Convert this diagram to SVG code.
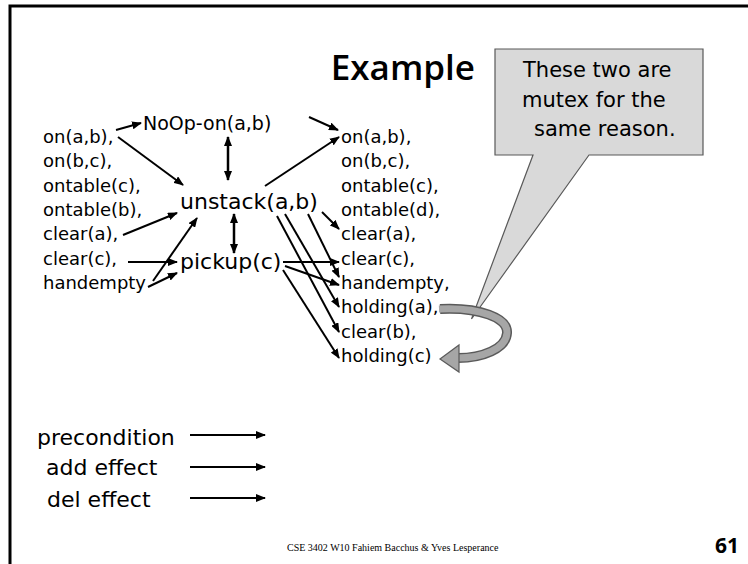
<svg xmlns="http://www.w3.org/2000/svg" width="748" height="564" viewBox="0 0 748 564">
  <style>
    .t { font-family: "DejaVu Sans", "Noto Sans", sans-serif; fill: #000; }
    .prop { font-size: 18px; }
    .act { font-size: 22px; }
    .noop { font-size: 19px; }
    .leg { font-size: 22px; }
    .call { font-size: 21px; }
    .ln { stroke: #000; stroke-width: 2; fill: none; marker-end: url(#ah); }
    .dbl { stroke: #000; stroke-width: 2.5; fill: none; marker-end: url(#ah); marker-start: url(#ah); }
  </style>
  <defs>
    <marker id="ah" markerUnits="userSpaceOnUse" markerWidth="10" markerHeight="8" refX="9" refY="4" orient="auto-start-reverse">
      <path d="M0,0 L10,4 L0,8 Z" fill="#000"/>
    </marker>
  </defs>

  <rect width="748" height="564" fill="#fff"/>
  <!-- slide frame -->
  <path d="M10,564 V6 H748" fill="none" stroke="#000" stroke-width="3"/>

  <text x="475" y="80" text-anchor="end" class="t" style="font-family:'Open Sans','DejaVu Sans',sans-serif;font-weight:600;font-size:35px">Example</text>

  <!-- callout -->
  <g id="callout">
    <path d="M495,49 H703 V155 H589 L471.5,319 L533,155 H495 Z" fill="#d9d9d9" stroke="#595959" stroke-width="1.2"/>
    <text class="t call" x="523" y="77">These two are</text>
    <text class="t call" x="522" y="107">mutex for the</text>
    <text class="t call" x="534" y="136">same reason.</text>
  </g>

  <!-- curved mutex arrow -->
  <g id="mutex-arrow">
    <path d="M440,309 C480,307 508,318 507,333 C506,349 482,358 458,358" fill="none" stroke="#5a5a5a" stroke-width="10"/>
    <path d="M439,309 C480,307 508,318 507,333 C506,349 482,358 457,358" fill="none" stroke="#a6a6a6" stroke-width="7"/>
    <path d="M440,359 L459,345 L459,372 Z" fill="#a6a6a6" stroke="#5a5a5a" stroke-width="1.2"/>
  </g>

  <g id="state0" class="t prop">
    <text x="43" y="143">on(a,b),</text>
    <text x="43" y="167">on(b,c),</text>
    <text x="43" y="192">ontable(c),</text>
    <text x="43" y="216">ontable(b),</text>
    <text x="43" y="240">clear(a),</text>
    <text x="43" y="265">clear(c),</text>
    <text x="43" y="289">handempty</text>
  </g>

  <g id="noop-on-ab"><text class="t noop" x="143" y="130">NoOp-on(a,b)</text></g>
  <g id="unstack-ab"><text class="t act" x="180" y="209">unstack(a,b)</text></g>
  <g id="pickup-c"><text class="t act" x="180" y="269">pickup(c)</text></g>

  <g id="state1" class="t prop">
    <text x="341" y="143">on(a,b),</text>
    <text x="341" y="167">on(b,c),</text>
    <text x="341" y="192">ontable(c),</text>
    <text x="341" y="216">ontable(d),</text>
    <text x="341" y="240">clear(a),</text>
    <text x="341" y="265">clear(c),</text>
    <text x="341" y="289">handempty,</text>
    <text x="341" y="313">holding(a),</text>
    <text x="341" y="338">clear(b),</text>
    <text x="341" y="362">holding(c)</text>
  </g>

  <g id="connectors">
    <!-- preconditions -->
    <line class="ln" x1="116" y1="130" x2="141" y2="123"/>
    <line class="ln" x1="118" y1="137" x2="183" y2="185"/>
    <line class="ln" x1="123" y1="235" x2="177" y2="213"/>
    <line class="ln" x1="128" y1="262" x2="177" y2="262"/>
    <line class="ln" x1="153" y1="281" x2="197" y2="218"/>
    <line class="ln" x1="148" y1="287" x2="177" y2="273"/>
    <!-- mutex links between actions -->
    <line class="dbl" x1="228" y1="137" x2="228" y2="180"/>
    <line class="dbl" x1="234" y1="214" x2="234" y2="253"/>
    <!-- effects -->
    <line class="ln" x1="309" y1="117" x2="338" y2="130"/>
    <line class="ln" x1="265" y1="186" x2="339" y2="137"/>
    <line class="ln" x1="322" y1="212" x2="339" y2="229"/>
    <line class="ln" x1="308" y1="214" x2="339" y2="277"/>
    <line class="ln" x1="285" y1="214" x2="339" y2="307"/>
    <line class="ln" x1="277" y1="216" x2="339" y2="332"/>
    <line class="ln" x1="283" y1="262" x2="339" y2="262"/>
    <line class="ln" x1="285" y1="266" x2="339" y2="285"/>
    <line class="ln" x1="283" y1="270" x2="339" y2="358"/>
  </g>

  <g id="legend">
    <text class="t leg" x="37" y="445">precondition</text>
    <text class="t leg" x="46" y="475">add effect</text>
    <text class="t leg" x="47" y="507">del effect</text>
    <line class="ln" x1="190" y1="435" x2="265" y2="435"/>
    <line class="ln" x1="190" y1="467" x2="265" y2="467"/>
    <line class="ln" x1="190" y1="498" x2="265" y2="498"/>
  </g>

  <text x="287" y="551" style="font-family:'Liberation Serif','DejaVu Serif',serif;font-size:10px">CSE 3402 W10 Fahiem Bacchus &amp; Yves Lesperance</text>
  <text x="739" y="553" text-anchor="end" style="font-family:'Open Sans','DejaVu Sans',sans-serif;font-weight:700;font-size:21px">61</text>
</svg>
